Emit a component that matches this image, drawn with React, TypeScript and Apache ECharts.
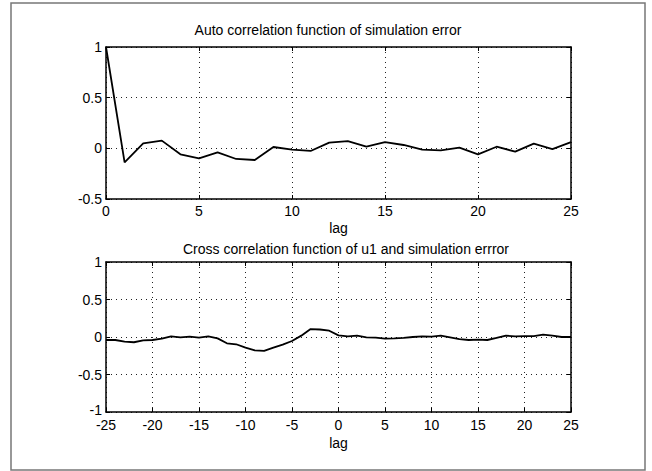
import React, { useEffect, useRef } from "react";
import * as echarts from "echarts";

const autoTitle = "Auto correlation function of simulation error";
const crossTitle = "Cross correlation function of u1 and simulation errror";
const xName = "lag";

const autoLags = [0, 1, 2, 3, 4, 5, 6, 7, 8, 9, 10, 11, 12, 13, 14, 15, 16, 17, 18, 19, 20, 21, 22, 23, 24, 25];
const autoValues = [
  1.0, -0.138, 0.049, 0.076, -0.059, -0.099, -0.039, -0.105, -0.115, 0.013, -0.013, -0.026, 0.057,
  0.072, 0.016, 0.062, 0.033, -0.013, -0.02, 0.007, -0.059, 0.016, -0.033, 0.046, -0.007, 0.062,
];

const crossLags = [
  -25, -24, -23, -22, -21, -20, -19, -18, -17, -16, -15, -14, -13, -12, -11, -10, -9, -8, -7, -6, -5, -4, -3, -2, -1,
  0, 1, 2, 3, 4, 5, 6, 7, 8, 9, 10, 11, 12, 13, 14, 15, 16, 17, 18, 19, 20, 21, 22, 23, 24, 25,
];
const crossValues = [
  -0.04, -0.04, -0.062, -0.07, -0.044, -0.04, -0.022, 0.009, -0.004, 0.004, -0.009, 0.009, -0.018, -0.084, -0.097,
  -0.142, -0.177, -0.186, -0.142, -0.102, -0.053, 0.018, 0.106, 0.1, 0.084,
  0.022, 0.009, 0.018, -0.004, -0.009, -0.022, -0.018, -0.013, 0, 0.009, 0.004, 0.018, -0.004, -0.027, -0.04,
  -0.035, -0.04, -0.013, 0.018, 0.009, 0.013, 0.013, 0.031, 0.018, 0, 0,
];

const FONT = "'Liberation Sans', Arial, Helvetica, sans-serif";
const FS = 14;

export default function App() {
  const ref = useRef<HTMLDivElement>(null);
  useEffect(() => {
    if (!ref.current) return;
    const chart = echarts.init(ref.current, undefined, { renderer: "svg" });
    const text = { fontFamily: FONT, fontSize: FS, color: "#000" };
    const boxLine = { show: true, onZero: false, lineStyle: { color: "#000", width: 1.5 } };
    const tick = { show: true, inside: true, length: 4, lineStyle: { color: "#000", width: 1 } };
    const grid = { show: true, lineStyle: { color: "#222", width: 1, type: [1, 4] as any } };

    const mkX = (gi: number, min: number, max: number, gap: number, margin: number) => [
      {
        gridIndex: gi, type: "value", min, max, interval: 5, position: "bottom",
        axisLine: boxLine, axisTick: tick,
        axisLabel: { ...text, margin, lineHeight: 12 },
        splitLine: grid,
        name: xName, nameLocation: "middle", nameGap: gap,
        nameTextStyle: { ...text },
      },
      {
        gridIndex: gi, type: "value", min, max, interval: 5, position: "top",
        axisLine: boxLine, axisTick: tick, axisLabel: { show: false }, splitLine: { show: false },
      },
    ];
    const mkY = (gi: number, min: number, max: number) => [
      {
        gridIndex: gi, type: "value", min, max, interval: 0.5, position: "left",
        axisLine: boxLine, axisTick: tick,
        axisLabel: {
          ...text, margin: 4, lineHeight: 11,
          formatter: (v: number) => (gi === 1 && v === min ? `{low|${v}}` : String(v)),
          rich: { low: { ...text, lineHeight: 11, padding: [0, 0, 5, 0] } },
        },
        splitLine: grid,
      },
      {
        gridIndex: gi, type: "value", min, max, interval: 0.5, position: "right",
        axisLine: boxLine, axisTick: tick, axisLabel: { show: false }, splitLine: { show: false },
      },
    ];

    chart.setOption({
      animation: false,
      backgroundColor: "#fff",
      textStyle: { fontFamily: FONT },
      grid: [
        { left: 106, top: 47, width: 465, height: 152 },
        { left: 106, top: 262, width: 465, height: 150 },
      ],
      xAxis: [...mkX(0, 0, 25, 22, 6), ...mkX(1, -25, 25, 24, 7)],
      yAxis: [...mkY(0, -0.5, 1), ...mkY(1, -1, 1)],
      series: [
        {
          type: "line", xAxisIndex: 0, yAxisIndex: 0, showSymbol: false, silent: true,
          lineStyle: { color: "#000", width: 1.8 },
          data: autoLags.map((l, i) => [l, autoValues[i]]),
        },
        {
          type: "line", xAxisIndex: 2, yAxisIndex: 2, showSymbol: false, silent: true,
          lineStyle: { color: "#000", width: 1.8 },
          data: crossLags.map((l, i) => [l, crossValues[i]]),
        },
      ],
      graphic: [
        {
          type: "rect", shape: { x: 11, y: 3, width: 634, height: 467 },
          style: { fill: "none", stroke: "#777", lineWidth: 1.5 }, silent: true,
        },
        {
          type: "text", x: 328, y: 30,
          style: { text: autoTitle, fill: "#000", font: `${FS}px ${FONT}`, textAlign: "center", textVerticalAlign: "middle" },
        },
        {
          type: "text", x: 346, y: 249,
          style: { text: crossTitle, fill: "#000", font: `${FS}px ${FONT}`, textAlign: "center", textVerticalAlign: "middle" },
        },
      ],
    });
    return () => chart.dispose();
  }, []);
  return <div ref={ref} style={{ position: "absolute", left: 0, top: 0, width: 652, height: 471 }} />;
}
